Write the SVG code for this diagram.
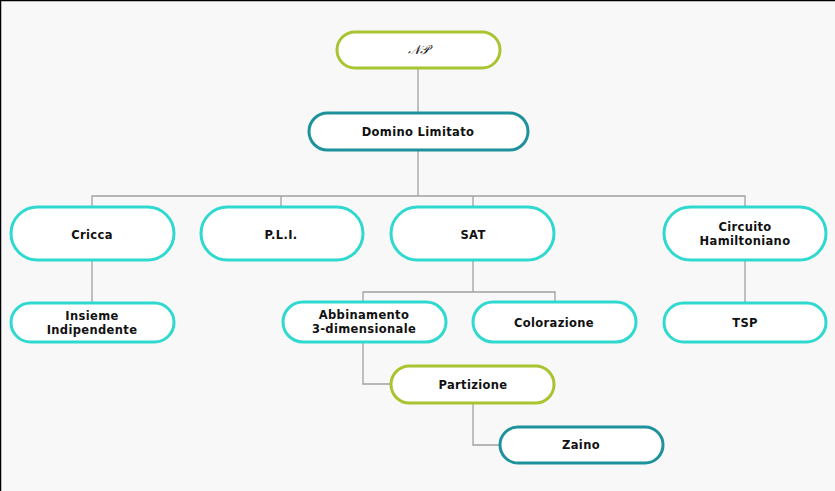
<svg xmlns="http://www.w3.org/2000/svg" width="835" height="491" viewBox="0 0 835 491">
<style>
.n{fill:#ffffff;stroke-width:3}
.c{stroke:#2fd9d0}
.t{stroke:#1e929c}
.g{stroke:#a8c430}
.l{font-family:"DejaVu Sans",Verdana,sans-serif;font-weight:bold;font-size:11.5px;letter-spacing:0.35px;fill:#111;text-anchor:middle}
#edges path{fill:none;stroke:#a0a0a0;stroke-width:1.3}
</style>
<rect x="0" y="0" width="835" height="491" fill="#f8f8f8"/>
<path d="M0.5 491V0.5H835" fill="none" stroke="#000" stroke-width="1.5"/>
<g id="edges">
<path d="M418 68V113"/>
<path d="M418 150V196M92 207V196H745V207M281 196V207M473 196V207"/>
<path d="M92 260V303"/>
<path d="M745 260V303"/>
<path d="M473 260V292M363 302V292H555V302"/>
<path d="M363 342V384H391"/>
<path d="M473 403V445H499"/>
</g>
<g id="np"><rect class="n g" x="337" y="32" width="163" height="36" rx="18"/><text x="418" y="54" font-family="DejaVu Serif,serif" font-style="italic" font-size="13" text-anchor="middle" fill="#222">𝒩𝒫</text></g>
<g id="domino"><rect class="n t" x="309" y="113" width="219" height="37" rx="18.5"/><text class="l" x="418" y="135.5">Domino Limitato</text></g>
<g id="cricca"><rect class="n c" x="11" y="207" width="163" height="53" rx="26.5"/><text class="l" x="92" y="238.5">Cricca</text></g>
<g id="pli"><rect class="n c" x="201" y="207" width="162" height="53" rx="26.5"/><text class="l" x="281" y="238.5">P.L.I.</text></g>
<g id="sat"><rect class="n c" x="391" y="207" width="163" height="53" rx="26.5"/><text class="l" x="473" y="238.5">SAT</text></g>
<g id="circuito"><rect class="n c" x="664" y="207" width="162" height="53" rx="26.5"/><text class="l" x="745" y="231">Circuito</text><text class="l" x="745" y="245">Hamiltoniano</text></g>
<g id="insieme"><rect class="n c" x="11" y="303" width="163" height="39" rx="19.5"/><text class="l" x="92" y="320">Insieme</text><text class="l" x="92" y="334">Indipendente</text></g>
<g id="abbinamento"><rect class="n c" x="283" y="302" width="163" height="40" rx="20"/><text class="l" x="364" y="319">Abbinamento</text><text class="l" x="364" y="333">3-dimensionale</text></g>
<g id="colorazione"><rect class="n c" x="473" y="302" width="163" height="40" rx="20"/><text class="l" x="554" y="326.5">Colorazione</text></g>
<g id="tsp"><rect class="n c" x="664" y="303" width="162" height="39" rx="19.5"/><text class="l" x="745" y="327">TSP</text></g>
<g id="partizione"><rect class="n g" x="391" y="366" width="163" height="37" rx="18.5"/><text class="l" x="473" y="388.5">Partizione</text></g>
<g id="zaino"><rect class="n t" x="500" y="427" width="163" height="36" rx="18"/><text class="l" x="581" y="449">Zaino</text></g>
</svg>
